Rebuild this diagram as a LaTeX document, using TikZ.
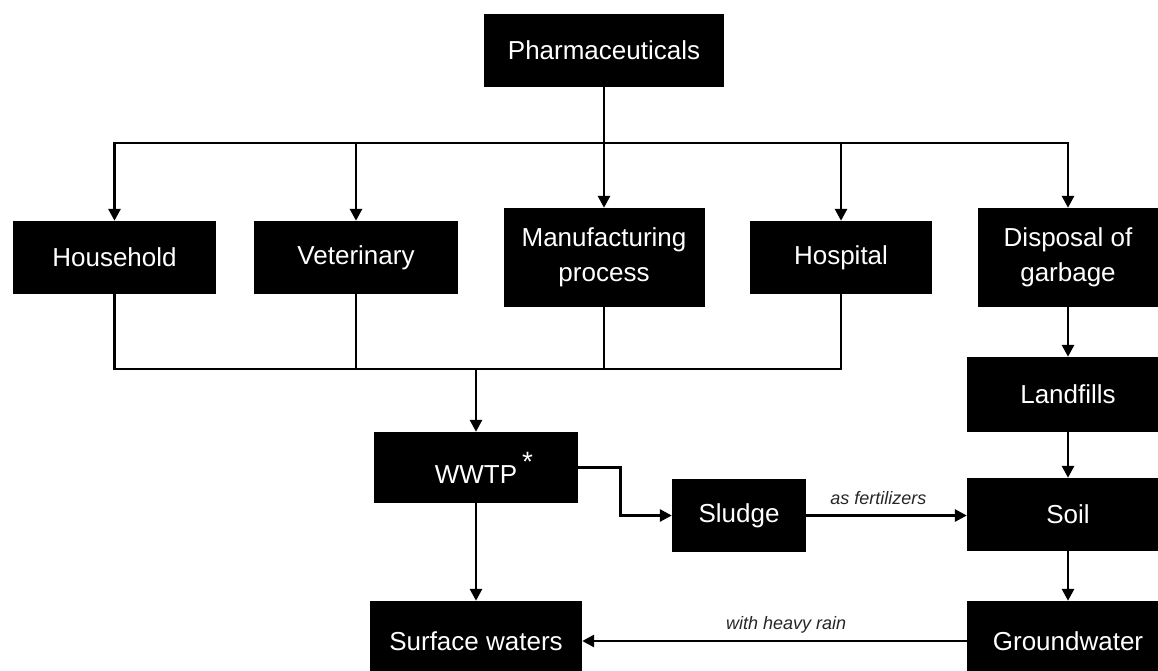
\documentclass[tikz,border=0pt]{standalone}
\usepackage{fontspec}
\setmainfont{Liberation Sans}
\usetikzlibrary{arrows.meta}
\newcommand{\boxfont}{\fontsize{26}{35}\selectfont}
\newcommand{\lblfont}{\fontsize{18}{20}\selectfont\itshape}
\begin{document}
\begin{tikzpicture}[x=1pt,y=-1pt,
  box/.style={fill=black, text=white, inner sep=0pt, font=\boxfont, align=center},
  conn/.style={line width=2.8pt, draw=black},
  arr/.style={conn, -{Triangle[length=12pt,width=12pt]}},
  lbl/.style={font=\lblfont, text=black!85, inner sep=0pt}]
\useasboundingbox (0,0) rectangle (1158,670);

\node[box, minimum width=240pt, minimum height=73pt] (pharma) at (604,50.5) {Pharmaceuticals};
\node[box, minimum width=203pt, minimum height=73pt] (household) at (114.5,257.5) {Household};
\node[box, minimum width=204pt, minimum height=73pt] (veterinary) at (356,257.5) {Veterinary};
\node[box, minimum width=201pt, minimum height=99pt] (manuf) at (604,257.5) {Manufacturing\\process};
\node[box, minimum width=182pt, minimum height=73pt] (hospital) at (841,257.5) {Hospital};
\node[box, minimum width=180pt, minimum height=99pt] (disposal) at (1068,257.5) {Disposal of\\garbage};
\node[box, minimum width=202pt, minimum height=75pt] (landfills) at (1068,394.5) {Landfills};
\node[box, minimum width=204pt, minimum height=71pt] (wwtp) at (476,467.5) {WWTP\rlap{\hspace{5pt}\raisebox{12pt}{\fontsize{28}{30}\selectfont *}}};
\node[box, minimum width=134pt, minimum height=73pt] (sludge) at (739,515.5) {Sludge};
\node[box, minimum width=202pt, minimum height=73pt] (soil) at (1068,514.5) {Soil};
\node[box, minimum width=212pt, minimum height=80pt] (surface) at (476,641) {Surface waters};
\node[box, minimum width=202pt, minimum height=80pt] (ground) at (1068,641) {Groundwater};

\coordinate (top) at (604,143);
\coordinate (bus) at (476,369);

% distribution from Pharmaceuticals
\draw[conn] (pharma.south) -- (top);
\draw[arr] (top) -| (household.north);
\draw[arr] (top) -| (disposal.north);
\draw[arr] (veterinary.north |- top) -- (veterinary.north);
\draw[arr] (top) -- (manuf.north);
\draw[arr] (hospital.north |- top) -- (hospital.north);

% collection to WWTP
\draw[conn] (household.south) |- (hospital.south |- bus) -- (hospital.south);
\draw[conn] (veterinary.south) -- (veterinary.south |- bus);
\draw[conn] (manuf.south) -- (manuf.south |- bus);
\draw[arr] (bus) -- (wwtp.north);

% WWTP outputs
\draw[arr] (wwtp.east) -- ++(42,0) |- (sludge.west);
\draw[arr] (wwtp.south) -- (surface.north);

% right column
\draw[arr] (disposal.south) -- (landfills.north);
\draw[arr] (landfills.south) -- (soil.north);
\draw[arr] (soil.south) -- (ground.north);

% labelled links
\draw[arr] (sludge.east) -- (sludge.east -| soil.west)
  node[lbl, pos=0.45, above=9pt] {as fertilizers};
\draw[arr] (ground.west) -- (surface.east)
  node[lbl, pos=0.47, above=6pt] {with heavy rain};
\end{tikzpicture}
\end{document}
